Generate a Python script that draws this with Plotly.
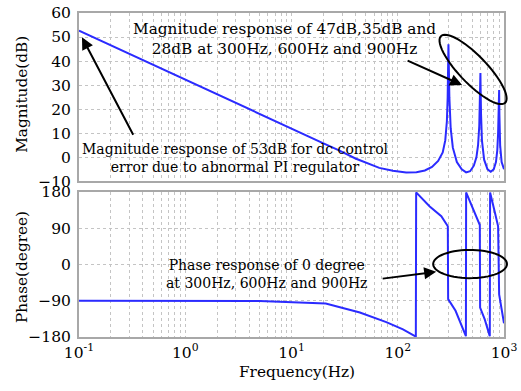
import numpy as np
import plotly.graph_objects as go

# ---------------- data ----------------
mag_freq = [0.1, 1, 10, 20, 28, 40, 67, 90, 120, 150, 180, 210, 240, 265, 280, 290, 295,
            298, 300, 302, 306, 315, 330, 360, 400, 440, 480, 520, 550, 570, 585, 593,
            598, 600, 602, 608, 620, 650, 700, 750, 800, 840, 865, 880, 893, 900, 905,
            920, 950, 1000]
mag_db = [52.7, 32.2, 11.7, 5.8, 2.9, -0.5, -4.4, -5.6, -6.3, -6.2, -5.5, -4.0, -1.5, 2.0,
          7.0, 15.0, 25.0, 40.0, 47.0, 40.0, 25.0, 12.0, 4.0, -2.0, -5.0, -6.3, -5.8, -3.5,
          0.0, 5.0, 13.0, 22.0, 30.0, 35.0, 30.0, 18.0, 7.0, -1.0, -5.0, -6.0, -5.0, -2.0,
          3.0, 10.0, 20.0, 28.0, 18.0, 5.0, -2.0, -5.0]

ph_freq = [0.1, 1, 5, 21, 44, 78, 112, 148, 149, 200, 257, 296, 298, 350, 400, 438, 440,
           520, 592, 596, 660, 735, 740, 820, 880, 900, 1000]
ph_deg = [-90, -90, -90.6, -97, -119, -143, -161, -179, 179, 144, 120, 95, -86, -115, -150,
          -178, 179, 135, 98, -107, -137, -178, 179, 130, 95, -74, -146]

mag_ticks = [-10, 0, 10, 20, 30, 40, 50, 60]
ph_ticks = [-180, -90, 0, 90, 180]
dec_labels = ["10<sup>-1</sup>", "10<sup>0</sup>", "10<sup>1</sup>", "10<sup>2</sup>", "10<sup>3</sup>"]

# ---------------- layout geometry (pixels) ----------------
W, H = 521, 391
L, R, T, B = 79, 505, 4, 337
PW, PH = R - L, B - T


def px(x):
    return (x - L) / PW


def py(y):
    return (B - y) / PH


xt_vals, xt_text = [], []
for k in range(-1, 3):
    for m in range(1, 10):
        xt_vals.append(m * 10.0 ** k)
        xt_text.append(dec_labels[k + 1] if m == 1 else "")
xt_vals.append(1000.0)
xt_text.append(dec_labels[4])

FONT = "DejaVu Serif"
LINE = "#2b2bff"
GRID = "#c4c4c4"
FRAME = "#a8a8a8"
FS = 15.3
FS_SMALL = 14.0

fig = go.Figure()
fig.add_trace(go.Scatter(x=mag_freq, y=mag_db, mode="lines", xaxis="x", yaxis="y",
                         line=dict(color=LINE, width=2), showlegend=False))
fig.add_trace(go.Scatter(x=ph_freq, y=ph_deg, mode="lines", xaxis="x2", yaxis="y2",
                         line=dict(color=LINE, width=2), showlegend=False))

axis_common = dict(showgrid=True, gridcolor=GRID, griddash="dot", gridwidth=1,
                   showline=True, linecolor=FRAME, linewidth=2, mirror=True,
                   zeroline=False, ticks="", tickfont=dict(family=FONT, size=15.5, color="black"))

fig.update_layout(
    width=W, height=H,
    margin=dict(l=L, r=W - R, t=T, b=H - B),
    paper_bgcolor="white", plot_bgcolor="white",
    font=dict(family=FONT, size=FS, color="black"),
    xaxis=dict(type="log", range=[-1, 3], tickvals=xt_vals, ticktext=["" for _ in xt_vals],
               anchor="y", **axis_common),
    yaxis=dict(range=[-10, 60], tickvals=mag_ticks, domain=[py(177), 1], anchor="x",
               ticklabelstandoff=3, **axis_common),
    xaxis2=dict(type="log", range=[-1, 3], tickvals=xt_vals, ticktext=xt_text,
                anchor="y2", matches="x", **axis_common),
    yaxis2=dict(range=[-180, 180], tickvals=ph_ticks, domain=[0, py(188)], anchor="x2",
                ticklabelstandoff=3, **axis_common),
)

ann = []


def note(text, x, y, angle=0, size=FS):
    ann.append(dict(text=text, x=px(x), y=py(y), xref="paper", yref="paper",
                    xanchor="center", yanchor="middle", textangle=angle,
                    showarrow=False, font=dict(family=FONT, size=size)))


# axis titles
note("Magnitude(dB)", 22, 88, -90)
note("Phase(degree)", 22, 265, -90)
note("Frequency(Hz)", 298, 373)
# text notes
note("Magnitude response of 47dB,35dB and<br>28dB at 300Hz, 600Hz and 900Hz", 285, 31)
note("Magnitude response of 53dB for dc control<br>error due to abnormal PI regulator", 236, 153,
     size=FS_SMALL)
note("Phase response of 0 degree<br>at 300Hz, 600Hz and 900Hz", 267, 272, size=FS_SMALL)
# arrows (head at x,y; tail offset in pixels)
for (hx, hy, tx, ty) in [(82, 29, 134, 128), (463, 78, 407, 53), (437, 270, 382, 277)]:
    ann.append(dict(text="", x=px(hx), y=py(hy), xref="paper", yref="paper",
                    ax=tx - hx, ay=ty - hy, axref="pixel", ayref="pixel",
                    showarrow=True, arrowhead=2, arrowsize=1.2, arrowwidth=2,
                    arrowcolor="black"))
fig.update_layout(annotations=ann)


def ellipse_path(cx, cy, a, b, ang_deg, n=60):
    t = np.linspace(0, 2 * np.pi, n)
    ang = np.radians(ang_deg)
    xs = cx + a * np.cos(t) * np.cos(ang) - b * np.sin(t) * np.sin(ang)
    ys = cy + a * np.cos(t) * np.sin(ang) + b * np.sin(t) * np.cos(ang)
    pts = [f"{px(x):.5f},{py(y):.5f}" for x, y in zip(xs, ys)]
    return "M " + " L ".join(pts) + " Z"


fig.add_shape(type="path", path=ellipse_path(474, 62, 47, 14, 47), xref="paper", yref="paper",
              line=dict(color="black", width=2))
fig.add_shape(type="path", path=ellipse_path(471, 262, 37, 14.5, 0), xref="paper", yref="paper",
              line=dict(color="black", width=2))

fig.write_html("out.html", config={"displayModeBar": False},
               post_script="document.body.style.margin='0';")
